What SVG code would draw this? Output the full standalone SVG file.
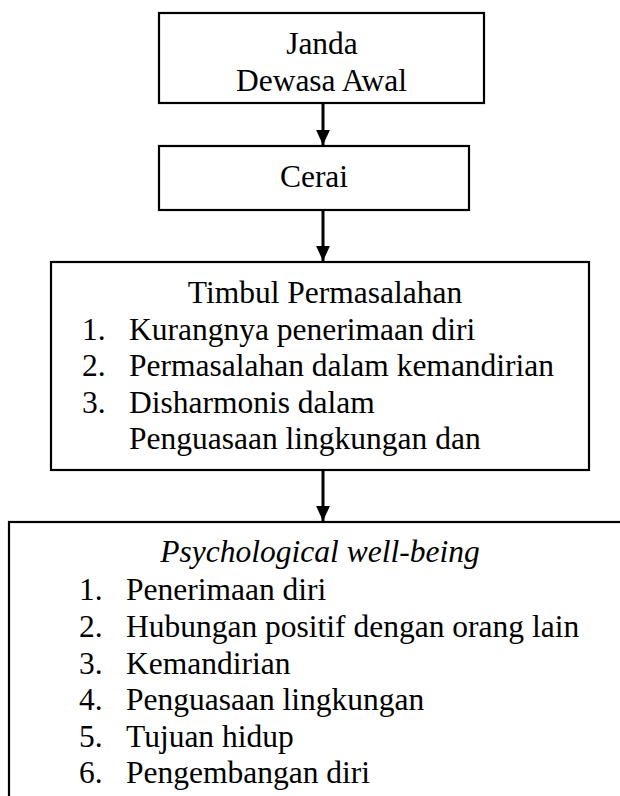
<svg xmlns="http://www.w3.org/2000/svg" width="620" height="796" viewBox="0 0 620 796">
<defs>
<style>
.box{fill:#fff;stroke:#000;stroke-width:2.2}
text{font-family:'Liberation Serif','Times New Roman',Tinos,'DejaVu Serif',serif;font-size:31.5px;fill:#000}
.c{text-anchor:middle}
.i{font-style:italic}
.conn{stroke:#000;stroke-width:3;fill:none}
</style>
<marker id="ah" markerWidth="5" markerHeight="4.6" refX="5" refY="2.3" orient="auto" markerUnits="strokeWidth">
<path d="M0,0 L5,2.3 L0,4.6 Z" fill="#000"/>
</marker>
</defs>
<rect width="620" height="796" fill="#fff"/>
<g id="n1">
<rect class="box" x="159" y="13" width="325" height="90"/>
<text class="c" x="322" y="54">Janda</text>
<text class="c" x="321.5" y="91">Dewasa Awal</text>
</g>
<g id="n2">
<rect class="box" x="159" y="146" width="310" height="64"/>
<text class="c" x="314" y="187">Cerai</text>
</g>
<g id="n3">
<rect class="box" x="51" y="262" width="538" height="208"/>
<text class="c" x="325" y="303">Timbul Permasalahan</text>
<text x="82" y="340">1.</text><text x="129" y="340">Kurangnya penerimaan diri</text>
<text x="82" y="376">2.</text><text x="129" y="376">Permasalahan dalam kemandirian</text>
<text x="82" y="413">3.</text><text x="129" y="413">Disharmonis dalam</text>
<text x="129" y="449">Penguasaan lingkungan dan</text>
</g>
<g id="n4">
<rect class="box" x="9" y="522" width="640" height="300"/>
<text class="c i" x="320" y="562">Psychological well-being</text>
<text x="79" y="600">1.</text><text x="126" y="600">Penerimaan diri</text>
<text x="79" y="637">2.</text><text x="126" y="637">Hubungan positif dengan orang lain</text>
<text x="79" y="674">3.</text><text x="126" y="674">Kemandirian</text>
<text x="79" y="710">4.</text><text x="126" y="710">Penguasaan lingkungan</text>
<text x="79" y="747">5.</text><text x="126" y="747">Tujuan hidup</text>
<text x="79" y="783">6.</text><text x="126" y="783">Pengembangan diri</text>
</g>
<g id="connectors">
<line class="conn" x1="323" y1="104" x2="323" y2="145" marker-end="url(#ah)"/>
<line class="conn" x1="323" y1="211" x2="323" y2="261" marker-end="url(#ah)"/>
<line class="conn" x1="323" y1="471" x2="323" y2="521" marker-end="url(#ah)"/>
</g>
</svg>
